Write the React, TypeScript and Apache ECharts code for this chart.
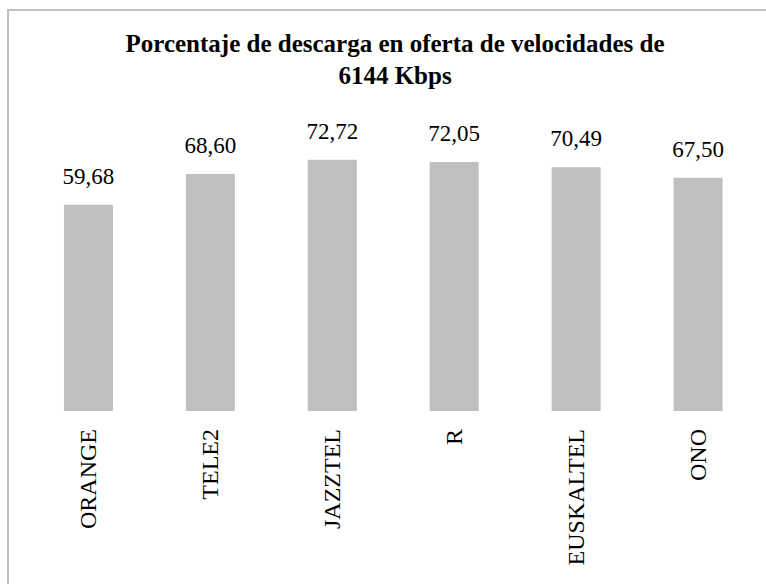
import React, { useEffect, useRef } from "react";
import * as echarts from "echarts";

const categories = ["ORANGE", "TELE2", "JAZZTEL", "R", "EUSKALTEL", "ONO"];
const values = [59.68, 68.6, 72.72, 72.05, 70.49, 67.5];
const titleText = "Porcentaje de descarga en oferta de velocidades de\n6144 Kbps";

const FONT = "Liberation Serif";

export default function App() {
  const ref = useRef<HTMLDivElement>(null);
  useEffect(() => {
    document.body.style.margin = "0";
    const chart = echarts.init(ref.current!, null, { renderer: "svg" });
    chart.setOption({
      animation: false,
      backgroundColor: "#ffffff",
      textStyle: { fontFamily: FONT },
      title: {
        text: titleText,
        left: 395,
        textAlign: "center",
        top: 27,
        padding: 0,
        textStyle: {
          fontFamily: FONT,
          fontWeight: "bold",
          fontSize: 25,
          lineHeight: 32,
          color: "#000000",
        },
      },
      graphic: [
        {
          type: "rect",
          shape: { x: 8, y: 10, width: 1000, height: 800 },
          style: { fill: "none", stroke: "#bfbfbf", lineWidth: 2 },
          silent: true,
          z: -1,
        },
      ],
      grid: {
        left: 27.5,
        right: 7,
        top: 134.5,
        bottom: 173,
        containLabel: false,
      },
      xAxis: {
        type: "category",
        data: categories,
        axisLine: { show: false },
        axisTick: { show: false },
        axisLabel: {
          rotate: 90,
          margin: 18,
          fontFamily: FONT,
          fontWeight: "normal",
          fontSize: 24,
          color: "#000000",
          interval: 0,
          formatter: (v: string) => "{c|" + v + "}",
          rich: {
            c: { fontFamily: FONT, fontSize: 24, color: "#000000" },
          },
        },
      },
      yAxis: {
        type: "value",
        min: 0,
        max: 80,
        show: false,
        splitLine: { show: false },
      },
      series: [
        {
          type: "bar",
          data: values,
          barWidth: 49,
          itemStyle: { color: "#bfbfbf" },
          label: {
            show: true,
            position: "top",
            distance: 17,
            fontFamily: FONT,
            fontWeight: "normal",
            fontSize: 23,
            color: "#000000",
            formatter: (p: any) => "{v|" + Number(p.value).toFixed(2).replace(".", ",") + "}",
            rich: {
              v: { fontFamily: FONT, fontSize: 23, color: "#000000" },
            },
          },
        },
      ],
    });
    return () => chart.dispose();
  }, []);
  return (
    <div
      ref={ref}
      style={{ position: "absolute", left: 0, top: 0, width: 766, height: 584 }}
    />
  );
}
